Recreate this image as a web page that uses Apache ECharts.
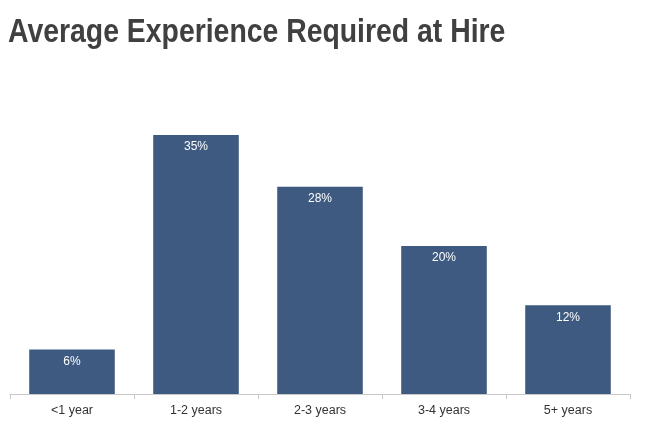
<!DOCTYPE html>
<html>
<head>
<meta charset="utf-8">
<script src="https://cdn.jsdelivr.net/npm/echarts@6/dist/echarts.min.js"></script>
<style>
  html, body { margin: 0; padding: 0; background: #fff; }
  #chart { width: 651px; height: 438px; }
</style>
</head>
<body>
<div id="chart"></div>
<script>
const categories = ['<1 year', '1-2 years', '2-3 years', '3-4 years', '5+ years'];
const values = [6, 35, 28, 20, 12];
const titleText = 'Average Experience Required at Hire';

const chart = echarts.init(document.getElementById('chart'));
chart.setOption({
  animation: false,
  backgroundColor: '#ffffff',
  graphic: [{
    type: 'text',
    left: 8,
    top: 16,
    scaleX: 0.86,
    originX: 0,
    originY: 0,
    style: {
      text: titleText,
      fontFamily: '"Liberation Sans", Arial, sans-serif',
      fontSize: 33,
      fontWeight: 'bold',
      fill: '#404040'
    }
  }],
  grid: { left: 10, right: 21, top: 98, bottom: 44, containLabel: false },
  xAxis: {
    type: 'category',
    data: categories,
    axisLine: { lineStyle: { color: '#c8c8c8', width: 1 } },
    axisTick: { show: true, alignWithLabel: false, length: 5, lineStyle: { color: '#c8c8c8' } },
    axisLabel: {
      color: '#333333',
      fontFamily: '"Liberation Sans", Arial, sans-serif',
      fontSize: 12.5,
      margin: 10
    }
  },
  yAxis: {
    type: 'value',
    min: 0,
    max: 40,
    show: false,
    splitLine: { show: false }
  },
  series: [{
    type: 'bar',
    data: values,
    barCategoryGap: '31%',
    itemStyle: { color: '#3e5a80' },
    label: {
      show: true,
      position: 'insideTop',
      distance: 6,
      formatter: '{c}%',
      color: '#ffffff',
      fontFamily: '"Liberation Sans", Arial, sans-serif',
      fontSize: 12
    }
  }]
});
</script>
</body>
</html>
